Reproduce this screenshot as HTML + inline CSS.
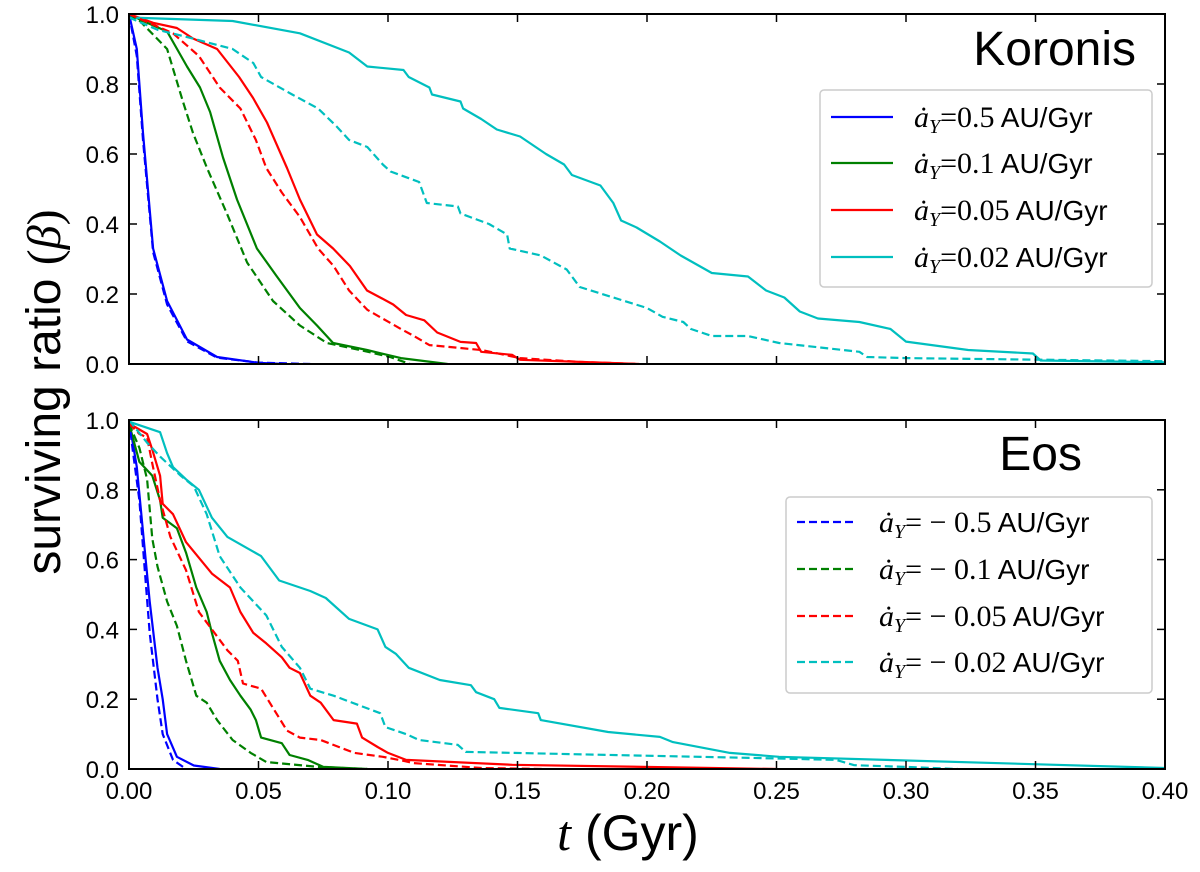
<!DOCTYPE html>
<html><head><meta charset="utf-8"><style>
body{margin:0;background:#fff;width:1200px;height:867px;overflow:hidden}
svg text{font-family:"Liberation Sans","DejaVu Sans",sans-serif}
.m{font-family:"Liberation Serif",serif;font-style:italic}
.r{font-family:"Liberation Serif",serif}
</style></head><body>
<svg id="chart" width="1200" height="867" viewBox="0 0 1200 867" xmlns="http://www.w3.org/2000/svg"></svg>
<script>
const xTicks=[0,0.05,0.10,0.15,0.20,0.25,0.30,0.35,0.40];
const xTickLabels=["0.00","0.05","0.10","0.15","0.20","0.25","0.30","0.35","0.40"];
const yTicks=[0,0.2,0.4,0.6,0.8,1.0];
const yTickLabels=["0.0","0.2","0.4","0.6","0.8","1.0"];
// Koronis (top) series: [t, beta]
const kBlueSolid=[[0,1],[0.003,0.9],[0.0054,0.66],[0.0093,0.33],[0.0147,0.18],[0.0224,0.07],[0.034,0.02],[0.05,0.003],[0.06,0]];
const kBlueDash=[[0,1],[0.003,0.88],[0.0054,0.64],[0.0093,0.32],[0.0147,0.17],[0.0224,0.065],[0.034,0.018],[0.05,0.004],[0.07,0]];
const kGreenSolid=[[0,1],[0.0054,0.98],[0.0147,0.95],[0.0224,0.85],[0.0274,0.79],[0.0313,0.72],[0.0363,0.59],[0.0417,0.47],[0.0494,0.33],[0.0571,0.25],[0.066,0.16],[0.0726,0.11],[0.0788,0.06],[0.0919,0.04],[0.105,0.017],[0.123,0]];
const kGreenDash=[[0,1],[0.0042,0.98],[0.0147,0.9],[0.0208,0.75],[0.0247,0.66],[0.0301,0.56],[0.0378,0.43],[0.0456,0.29],[0.0556,0.18],[0.066,0.11],[0.0764,0.06],[0.0892,0.04],[0.1008,0.02],[0.1085,0]];
const kRedSolid=[[0,1],[0.0093,0.975],[0.0185,0.96],[0.0247,0.93],[0.034,0.9],[0.0425,0.82],[0.0479,0.76],[0.0533,0.69],[0.061,0.56],[0.066,0.47],[0.0726,0.37],[0.0788,0.33],[0.0853,0.28],[0.0919,0.21],[0.097,0.19],[0.102,0.17],[0.107,0.14],[0.114,0.125],[0.119,0.09],[0.128,0.063],[0.134,0.06],[0.136,0.035],[0.148,0.026],[0.151,0.012],[0.174,0.006],[0.197,0]];
const kRedDash=[[0,1],[0.017,0.945],[0.027,0.88],[0.035,0.79],[0.043,0.73],[0.049,0.64],[0.053,0.56],[0.059,0.49],[0.066,0.42],[0.073,0.33],[0.079,0.28],[0.085,0.21],[0.092,0.155],[0.101,0.117],[0.105,0.1],[0.11,0.08],[0.116,0.054],[0.136,0.04],[0.151,0.017],[0.174,0.006],[0.197,0]];
const kCyanSolid=[[0,0.99],[0.04,0.98],[0.066,0.945],[0.085,0.89],[0.092,0.85],[0.106,0.84],[0.108,0.82],[0.116,0.79],[0.117,0.77],[0.128,0.75],[0.129,0.73],[0.136,0.7],[0.142,0.67],[0.151,0.65],[0.161,0.6],[0.168,0.57],[0.171,0.54],[0.182,0.51],[0.187,0.46],[0.19,0.41],[0.196,0.39],[0.205,0.35],[0.213,0.31],[0.225,0.26],[0.239,0.25],[0.246,0.21],[0.253,0.19],[0.259,0.15],[0.266,0.13],[0.282,0.12],[0.294,0.1],[0.3,0.064],[0.324,0.04],[0.349,0.03],[0.352,0.01],[0.4,0.005]];
const kCyanDash=[[0,0.99],[0.011,0.955],[0.022,0.935],[0.04,0.9],[0.048,0.86],[0.051,0.82],[0.063,0.77],[0.073,0.73],[0.08,0.68],[0.085,0.64],[0.092,0.62],[0.098,0.57],[0.101,0.55],[0.112,0.52],[0.115,0.46],[0.127,0.45],[0.128,0.43],[0.139,0.4],[0.146,0.37],[0.147,0.33],[0.159,0.31],[0.169,0.27],[0.174,0.22],[0.187,0.19],[0.2,0.16],[0.206,0.135],[0.214,0.12],[0.217,0.1],[0.225,0.08],[0.239,0.08],[0.251,0.06],[0.282,0.035],[0.285,0.02],[0.3,0.017],[0.4,0.008]];
// Eos (bottom) series
const eBlueSolid=[[0,1],[0.003,0.865],[0.0054,0.68],[0.008,0.48],[0.011,0.29],[0.013,0.2],[0.0147,0.1],[0.0185,0.035],[0.025,0.01],[0.035,0]];
const eBlueDash=[[0,1],[0.0015,0.91],[0.004,0.77],[0.006,0.58],[0.008,0.39],[0.011,0.2],[0.013,0.1],[0.017,0.026],[0.022,0]];
const eGreenSolid=[[0,0.99],[0.004,0.88],[0.009,0.84],[0.012,0.77],[0.013,0.72],[0.0185,0.69],[0.022,0.62],[0.026,0.52],[0.03,0.45],[0.032,0.39],[0.035,0.31],[0.039,0.255],[0.043,0.21],[0.047,0.17],[0.049,0.14],[0.051,0.09],[0.059,0.074],[0.062,0.04],[0.069,0.026],[0.075,0.006],[0.092,0]];
const eGreenDash=[[0,0.99],[0.004,0.92],[0.007,0.83],[0.009,0.66],[0.011,0.58],[0.0147,0.48],[0.0185,0.41],[0.022,0.31],[0.026,0.21],[0.03,0.19],[0.034,0.14],[0.04,0.083],[0.047,0.046],[0.053,0.02],[0.073,0.006],[0.092,0]];
const eRedSolid=[[0,0.99],[0.007,0.96],[0.009,0.915],[0.012,0.84],[0.013,0.76],[0.017,0.73],[0.022,0.65],[0.032,0.56],[0.039,0.52],[0.043,0.45],[0.048,0.39],[0.053,0.36],[0.059,0.32],[0.062,0.29],[0.066,0.275],[0.07,0.21],[0.074,0.19],[0.079,0.14],[0.088,0.13],[0.09,0.09],[0.096,0.063],[0.1,0.046],[0.107,0.026],[0.148,0.012],[0.225,0.003],[0.25,0]];
const eRedDash=[[0,0.99],[0.004,0.96],[0.007,0.95],[0.009,0.875],[0.012,0.77],[0.016,0.665],[0.022,0.57],[0.027,0.45],[0.032,0.4],[0.038,0.34],[0.042,0.31],[0.044,0.245],[0.051,0.23],[0.061,0.11],[0.066,0.09],[0.074,0.083],[0.087,0.046],[0.098,0.035],[0.105,0.025],[0.11,0.017],[0.136,0.003],[0.16,0]];
const eCyanSolid=[[0,0.995],[0.012,0.965],[0.0147,0.905],[0.017,0.865],[0.022,0.83],[0.027,0.8],[0.032,0.72],[0.038,0.665],[0.051,0.61],[0.058,0.54],[0.07,0.51],[0.076,0.49],[0.085,0.43],[0.096,0.4],[0.099,0.35],[0.103,0.33],[0.108,0.29],[0.12,0.255],[0.132,0.24],[0.134,0.22],[0.141,0.2],[0.143,0.175],[0.158,0.16],[0.159,0.14],[0.185,0.106],[0.205,0.092],[0.21,0.077],[0.232,0.046],[0.251,0.035],[0.4,0.003]];
const eCyanDash=[[0,1],[0.007,0.935],[0.012,0.895],[0.02,0.84],[0.025,0.81],[0.03,0.73],[0.035,0.61],[0.043,0.52],[0.053,0.44],[0.059,0.35],[0.066,0.29],[0.07,0.23],[0.079,0.21],[0.097,0.16],[0.099,0.12],[0.107,0.1],[0.112,0.083],[0.127,0.069],[0.13,0.049],[0.251,0.03],[0.273,0.026],[0.28,0.011],[0.3,0.006],[0.32,0]];

const NS="http://www.w3.org/2000/svg";
const svg=document.getElementById('chart');
function mk(tag,attrs,parent){const e=document.createElementNS(NS,tag);for(const k in attrs)e.setAttribute(k,attrs[k]);(parent||svg).appendChild(e);return e;}
const X0=129,X1=1165;
const xs=t=>X0+(t/0.40)*(X1-X0);
const panels=[
 {top:14,bot:364,name:'koronis',title:'Koronis',titleX:1136,titleY:65,
  series:[[kBlueSolid,'#0000ff',0],[kGreenSolid,'#008000',0],[kRedSolid,'#ff0000',0],[kCyanSolid,'#00bfbf',0],[kBlueDash,'#0000ff',1],[kGreenDash,'#008000',1],[kRedDash,'#ff0000',1],[kCyanDash,'#00bfbf',1]],
  leg:{x:820,y:90,w:332,h:197,lx:831,lw:62,tx:914,rows:[117,163,210,257],labels:['0.5','0.1','0.05','0.02'],dash:0,neg:false}},
 {top:420,bot:769,name:'eos',title:'Eos',titleX:1082,titleY:470,
  series:[[eBlueSolid,'#0000ff',0],[eGreenSolid,'#008000',0],[eRedSolid,'#ff0000',0],[eCyanSolid,'#00bfbf',0],[eBlueDash,'#0000ff',1],[eGreenDash,'#008000',1],[eRedDash,'#ff0000',1],[eCyanDash,'#00bfbf',1]],
  leg:{x:786,y:497,w:366,h:196,lx:797,lw:60,tx:879,rows:[522,569,616,662],labels:['0.5','0.1','0.05','0.02'],dash:1,neg:true}}
];
const colNames={'#0000ff':'blue','#008000':'green','#ff0000':'red','#00bfbf':'cyan'};
panels.forEach((p,pi)=>{
  const ys=b=>p.bot-b*(p.bot-p.top);
  const g=mk('g',{});
  
  
  const cp=mk('clipPath',{id:'cp'+pi},g);
  mk('rect',{x:X0,y:p.top,width:X1-X0,height:p.bot-p.top},cp);
  const lines=mk('g',{'clip-path':'url(#cp'+pi+')'},g);
  p.series.forEach(s=>{
    const d=s[0].map((pt,i)=>(i?'L':'M')+xs(pt[0]).toFixed(1)+','+ys(pt[1]).toFixed(1)).join('');
    const path=mk('path',{d:d,fill:'none',stroke:s[1],'stroke-width':2.2,'stroke-dasharray':s[2]?'8,4':'none','stroke-linejoin':'round'},lines);
    
    
  });
  const frame=mk('rect',{x:X0,y:p.top,width:X1-X0,height:p.bot-p.top,fill:'none',stroke:'#000','stroke-width':2},g);
  
  
  xTicks.forEach((t,i)=>{
    const x=xs(t);
    mk('line',{x1:x,x2:x,y1:p.bot,y2:p.bot-8,stroke:'#000','stroke-width':1.5},g);
    mk('line',{x1:x,x2:x,y1:p.top,y2:p.top+8,stroke:'#000','stroke-width':1.5},g);
    if(pi===1){const tx=mk('text',{x:x,y:p.bot+30,'text-anchor':'middle','font-size':24},g);tx.textContent=xTickLabels[i];
      
      }
  });
  yTicks.forEach((b,i)=>{
    const y=ys(b);
    mk('line',{x1:X0,x2:X0+8,y1:y,y2:y,stroke:'#000','stroke-width':1.5},g);
    mk('line',{x1:X1,x2:X1-8,y1:y,y2:y,stroke:'#000','stroke-width':1.5},g);
    const tx=mk('text',{x:X0-10,y:y+9,'text-anchor':'end','font-size':24},g);tx.textContent=yTickLabels[i];
    
    
  });
  const tt=mk('text',{x:p.titleX,y:p.titleY,'text-anchor':'end','font-size':48},g);tt.textContent=p.title;
  
  
  const L=p.leg;
  const lg=mk('g',{},g);
  
  
  mk('rect',{x:L.x,y:L.y,width:L.w,height:L.h,rx:4,fill:'#fff','fill-opacity':0.8,stroke:'#cccccc','stroke-width':1.5},lg);
  const cols=['#0000ff','#008000','#ff0000','#00bfbf'];
  L.rows.forEach((ry,i)=>{
    const e=mk('g',{},lg);
    
    
    mk('line',{x1:L.lx,x2:L.lx+L.lw,y1:ry,y2:ry,stroke:cols[i],'stroke-width':2.2,'stroke-dasharray':L.dash?'8,4':'none'},e);
    const t=mk('text',{x:L.tx,y:ry+10,'font-size':28},e);
    t.innerHTML='<tspan class="m" font-size="30">ȧ</tspan><tspan class="m" font-size="20" dy="6">Y</tspan><tspan class="r" font-size="30" dy="-6">'+(L.neg?'= − ':'=')+L.labels[i]+'</tspan><tspan> AU/Gyr</tspan>';
  });
});
const yl=mk('text',{x:0,y:0,'text-anchor':'middle','font-size':48,transform:'translate(60,392) rotate(-90)'});
yl.innerHTML='surviving ratio <tspan class="r">(</tspan><tspan class="m">β</tspan><tspan class="r">)</tspan>';


const xl=mk('text',{x:628,y:850,'text-anchor':'middle','font-size':50});
xl.innerHTML='<tspan class="m">t</tspan> (Gyr)';


</script>
</body></html>
